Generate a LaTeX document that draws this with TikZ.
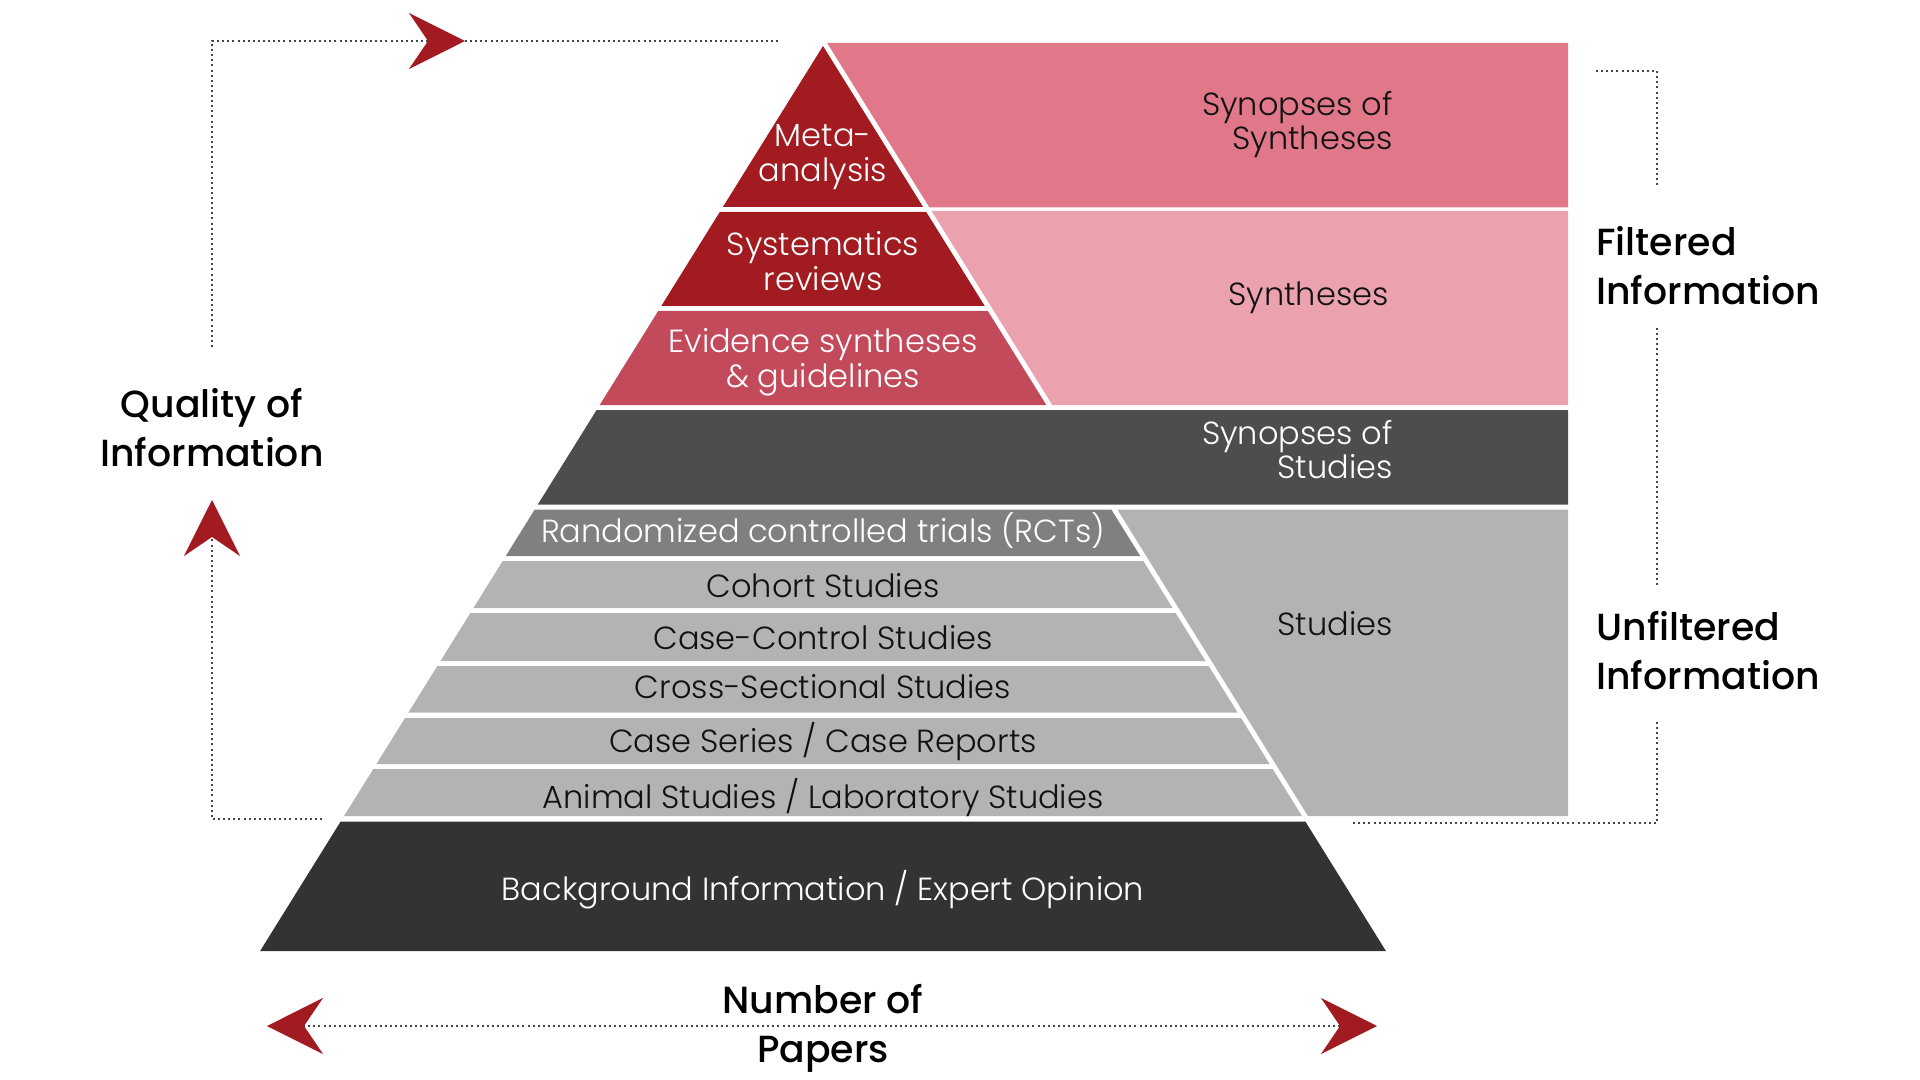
\documentclass[tikz,border=0pt]{standalone}
\usepackage{fontspec}
\setmainfont{Poppins}[UprightFont=* Light, BoldFont=* Medium]
\usetikzlibrary{arrows.meta}

\definecolor{redA}{HTML}{A21B21}
\definecolor{redB}{HTML}{C24A5A}
\definecolor{pinkA}{HTML}{E07889}
\definecolor{pinkB}{HTML}{ECA1AF}
\definecolor{greyA}{HTML}{4D4D4D}
\definecolor{greyB}{HTML}{808080}
\definecolor{greyC}{HTML}{B3B3B3}
\definecolor{greyD}{HTML}{333333}
\definecolor{ink}{HTML}{111111}
\definecolor{dots}{HTML}{444444}

\tikzset{
  wtxt/.style={text=white, align=center, inner sep=0pt, font=\fontsize{16}{17.3}\selectfont},
  ktxt/.style={text=ink, align=center, inner sep=0pt, font=\fontsize{16}{17.3}\selectfont},
  rtxt/.style={align=right, inner sep=0pt, anchor=east, font=\fontsize{16}{17.3}\selectfont},
  lbl/.style={text=black, inner sep=0pt, font=\bfseries\fontsize{18.9}{24.5}\selectfont},
  dotline/.style={draw=dots, line width=1.25pt, dash pattern=on 1pt off 1.55pt},
  redtip/.style={-{Stealth[length=28pt, width=28pt, inset=9.5pt, color=redA]}},
  declare function={xl(\y)=823-0.622*(\y-46); xr(\y)=823+0.622*(\y-46);}
}

\begin{document}
\begin{tikzpicture}[x=0.5pt, y=-0.5pt]
\useasboundingbox (0,0) rectangle (1920,1080);

% right-hand panels
\fill[pinkA] ({xr(43)+6},43) -- (1568,43) -- (1568,207.5) -- ({xr(207.5)+6},207.5) -- cycle;
\fill[pinkB] ({xr(211)+6},211) -- (1568,211) -- (1568,405) -- ({xr(405)+6},405) -- cycle;
\fill[greyA] ({xl(410)},410) -- (1568,410) -- (1568,504.5) -- ({xl(504.5)},504.5) -- cycle;
\fill[greyC] ({xr(509.5)+6},509.5) -- (1568,509.5) -- (1568,816) -- ({xr(816)+6},816) -- cycle;

% pyramid tiers
\fill[redA] (823,46) -- ({xr(207)},207) -- ({xl(207)},207) -- cycle;
\fill[redA] ({xl(212)},212) -- ({xr(212)},212) -- ({xr(306)},306) -- ({xl(306)},306) -- cycle;
\fill[redB] ({xl(311)},311) -- ({xr(311)},311) -- ({xr(405)},405) -- ({xl(405)},405) -- cycle;
\fill[greyB] ({xl(509.5)},509.5) -- ({xr(509.5)},509.5) -- ({xr(556)},556) -- ({xl(556)},556) -- cycle;
\fill[greyC] ({xl(561)},561) -- ({xr(561)},561) -- ({xr(608)},608) -- ({xl(608)},608) -- cycle;
\fill[greyC] ({xl(613)},613) -- ({xr(613)},613) -- ({xr(661)},661) -- ({xl(661)},661) -- cycle;
\fill[greyC] ({xl(666)},666) -- ({xr(666)},666) -- ({xr(712.5)},712.5) -- ({xl(712.5)},712.5) -- cycle;
\fill[greyC] ({xl(718)},718) -- ({xr(718)},718) -- ({xr(764)},764) -- ({xl(764)},764) -- cycle;
\fill[greyC] ({xl(769)},769) -- ({xr(769)},769) -- ({xr(816)},816) -- ({xl(816)},816) -- cycle;
\fill[greyD] ({xl(821.5)},821.5) -- ({xr(821.5)},821.5) -- ({xr(951)},951) -- ({xl(951)},951) -- cycle;

% tier texts
\node[wtxt] (meta) at (823,157) {Meta-\\analysis};
\node[wtxt] (sysrev) at (823,261) {Systematics\\reviews};
\node[wtxt] (evid) at (823,362.5) {Evidence syntheses\\\& guidelines};
\node[wtxt] (rct) at (823,531) {Randomized controlled trials (RCTs)};
\node[ktxt] (cohort) at (823,586) {Cohort Studies};
\node[ktxt] (casectl) at (823,638) {Case-Control Studies};
\node[ktxt] (cross) at (823,686.5) {Cross-Sectional Studies};
\node[ktxt] (series) at (823,742) {Case Series / Case Reports};
\node[ktxt] (animal) at (823,797.5) {Animal Studies / Laboratory Studies};
\node[wtxt] (backgr) at (823,890) {Background Information / Expert Opinion};

% panel texts
\node[rtxt, text=ink] (synsyn) at (1393,124.5) {Synopses of\\Syntheses};
\node[rtxt, text=ink] (synth) at (1389,298) {Syntheses};
\node[rtxt, text=white] (synstu) at (1393,449.5) {Synopses of\\Studies};
\node[rtxt, text=ink] (studies) at (1393,624) {Studies};

% axis labels
\node[lbl, align=center] (quality) at (212,428) {Quality of\\Information};
\node[lbl, align=left, anchor=west] (filt) at (1596,265.5) {Filtered\\Information};
\node[lbl, align=left, anchor=west] (unfilt) at (1596,650.5) {Unfiltered\\Information};
\node[lbl, align=center] (papers) at (823,1028.5) {Number of\\Papers};

% quality axis
\coordinate (qbase) at (322,819);
\coordinate (qtip) at (212,500);
\coordinate (qtop) at (212,347);
\coordinate (qmid) at (465,41);
\coordinate (qend) at (780,41);
\draw[dotline, redtip] (qbase) -| (qtip);
\draw[dotline, redtip] (qtop) |- (qmid);
\draw[dotline] (qmid) -- (qend);

% filtered / unfiltered bracket
\coordinate (fa) at (1596,71);
\coordinate (fb) at (1657,187);
\coordinate (fc) at (1657,328);
\coordinate (fd) at (1657,585);
\coordinate (fe) at (1657,722);
\coordinate (ff) at (1351,823);
\draw[dotline] (fa) -| (fb);
\draw[dotline] (fc) -- (fd);
\draw[dotline] (fe) |- (ff);

% number of papers axis
\coordinate (pl) at (267,1026);
\coordinate (pr) at (1377,1026);
\draw[dotline, {Stealth[length=28pt, width=28pt, inset=9.5pt, color=redA]}-{Stealth[length=28pt, width=28pt, inset=9.5pt, color=redA]}] (pl) -- (pr);
\end{tikzpicture}
\end{document}
